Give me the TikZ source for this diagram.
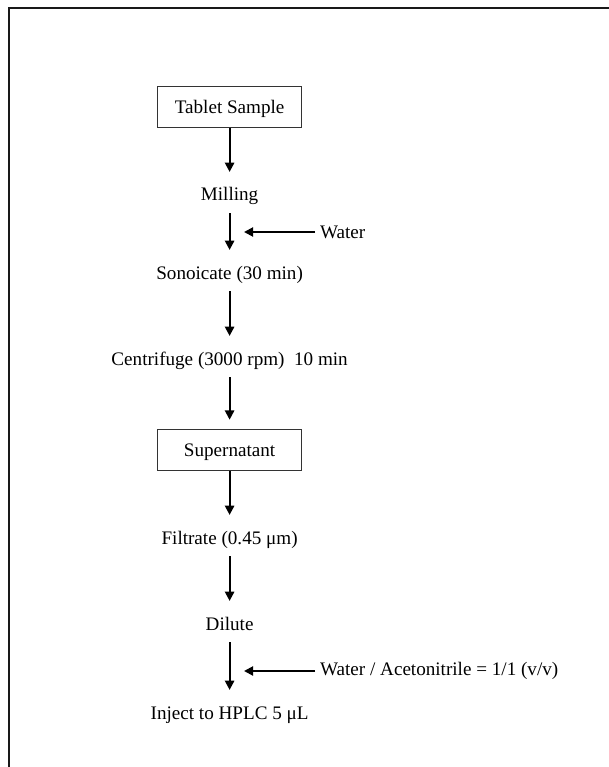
\documentclass[tikz,border=0pt]{standalone}
\usepackage{fontspec}
\setmainfont{Liberation Serif}
\usepackage{tikz}
\usetikzlibrary{arrows.meta,positioning}

\begin{document}
\begin{tikzpicture}[
  >={Triangle[length=2.3mm,width=2.3mm]},
  box/.style={draw=black!80, line width=0.6pt, minimum width=3.6cm, minimum height=1.025cm,
              text height=9.5pt, text depth=0pt, align=center,
              font=\fontsize{13.6}{16}\selectfont},
  stage/.style={anchor=base, inner ysep=0pt, text height=20.5pt, text depth=8.5pt,
                font=\fontsize{13.6}{16}\selectfont},
  reagent/.style={anchor=west, font=\fontsize{13.6}{16}\selectfont},
  flow/.style={->, line width=1.4pt},
]
\useasboundingbox (0,0) rectangle (15.225,-19.175);
% frame (top and left only)
\draw[line width=1.1pt, black!90] (0.225,-19.175) -- (0.225,-0.2) -- (15.225,-0.2);

% Column of steps (text nodes sit on their baselines)
\node[box] (tablet) at (5.74,-2.665) {Tablet Sample};
\node[stage] (mill) at (5.74,-5.025) {Milling};
\node[stage] (sonic) at (5.74,-6.975) {Sonoicate (30 min)};
\node[stage] (centri) at (5.74,-9.125) {Centrifuge (3000 rpm)~~10 min};
\node[box] (super) at (5.74,-11.24) {Supernatant};
\node[stage] (filt) at (5.74,-13.6) {Filtrate (0.45 μm)};
\node[stage] (dil) at (5.74,-15.75) {Dilute};
\node[stage] (inj) at (5.74,-17.975) {Inject to HPLC 5 μL};

% Added reagents
\node[reagent] (water) at (7.88,-5.8) {Water};
\node[reagent] (mix) at (7.88,-16.775) {Water / Acetonitrile = 1/1 (v/v)};
\coordinate (waterin) at (6.1,-5.8);
\coordinate (mixin) at (6.1,-16.775);

% Arrows: main flow
\draw[flow] (tablet.south) -- (mill.north);
\draw[flow] (mill.south) -- (sonic.north);
\draw[flow] (sonic.south) -- (centri.north);
\draw[flow, shorten >=0.225cm] (centri.south) -- (super.north);
\draw[flow] (super.south) -- (filt.north);
\draw[flow] (filt.south) -- (dil.north);
\draw[flow] (dil.south) -- (inj.north);
% Arrows: reagents in
\draw[flow] (water.west) -- (waterin);
\draw[flow] (mix.west) -- (mixin);
\end{tikzpicture}
\end{document}
